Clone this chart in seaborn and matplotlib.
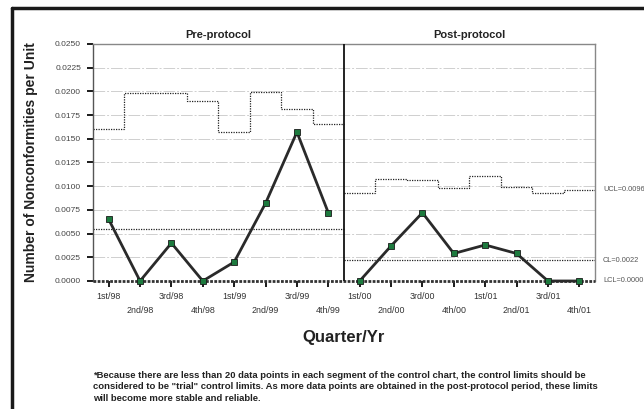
import numpy as np
import matplotlib
matplotlib.use("Agg")
import matplotlib.pyplot as plt
import seaborn as sns
from matplotlib.lines import Line2D

# quarters
pre_quarters = ["1st/98", "2nd/98", "3rd/98", "4th/98", "1st/99", "2nd/99", "3rd/99", "4th/99"]
post_quarters = ["1st/00", "2nd/00", "3rd/00", "4th/00", "1st/01", "2nd/01", "3rd/01", "4th/01"]

# nonconformities per unit
pre_values = [0.0065, 0.0, 0.0040, 0.0, 0.0020, 0.0082, 0.0157, 0.0072]
post_values = [0.0, 0.0037, 0.0072, 0.0029, 0.0038, 0.0029, 0.0, 0.0]

# control limits
pre_ucl = [0.0160, 0.0198, 0.0198, 0.0190, 0.0157, 0.0199, 0.0181, 0.0166]
post_ucl = [0.0093, 0.0108, 0.0107, 0.0098, 0.0111, 0.0099, 0.0093, 0.0096]
pre_cl = 0.0055
post_cl = 0.0022
lcl = 0.0

y_ticks = [0.0, 0.0025, 0.005, 0.0075, 0.01, 0.0125, 0.015, 0.0175, 0.02, 0.0225, 0.025]

sns.set_theme(style="white")
plt.rcParams["font.family"] = ["Liberation Sans", "DejaVu Sans"]

fig = plt.figure(figsize=(6.44, 4.09), dpi=100)
ax = fig.add_axes([0.1444, 0.313, 0.7795, 0.5795])

quarters = pre_quarters + post_quarters
n_pre = len(pre_quarters)
x_pre = np.arange(n_pre)
x_post = np.arange(n_pre, len(quarters))

# grid
for yv in y_ticks[1:]:
    ax.axhline(yv, color="#cfcfcf", lw=0.7, ls=(0, (12, 2, 2, 2)), zorder=0)

dot = (0, (1, 1))
# UCL steps
ax.stairs(pre_ucl, np.arange(-0.5, n_pre + 0.5), baseline=None, color="#222222", lw=0.9, ls=dot)
ax.stairs(post_ucl, np.arange(n_pre - 0.5, len(quarters) + 0.5), baseline=None, color="#222222", lw=0.9, ls=dot)
# CL
ax.hlines(pre_cl, -0.5, n_pre - 0.5, color="#222222", lw=0.9, ls=dot)
ax.hlines(post_cl, n_pre - 0.5, len(quarters) - 0.5, color="#222222", lw=0.9, ls=dot)
# LCL
ax.hlines(lcl, -0.5, len(quarters) - 0.5, color="#333333", lw=2.0, ls=(0, (1, 0.5)), zorder=3, clip_on=False)

# data lines
for xs, ys in [(x_pre, pre_values), (x_post, post_values)]:
    sns.lineplot(x=xs, y=ys, ax=ax, color="#2a2a2a", lw=2, marker="s", markersize=3.8,
                 markerfacecolor="#1d7a3e", markeredgecolor="#1a1a1a", markeredgewidth=0.6,
                 zorder=4, clip_on=False)

# divider
ax.axvline(n_pre - 0.5, color="#111111", lw=1.3, zorder=5)

ax.set_xlim(-0.5, len(quarters) - 0.5)
ax.set_ylim(0, 0.025)
ax.set_yticks(y_ticks)
ax.set_yticklabels([f"{v:.4f}" for v in y_ticks], fontsize=6, color="#444444")
ax.set_xticks(range(len(quarters)))
labels = [q if i % 2 == 0 else "\n" + q for i, q in enumerate(quarters)]
ax.set_xticklabels(labels, fontsize=6.4, color="#333333", linespacing=1.7)
ax.tick_params(axis="both", which="both", direction="out", length=4.3, width=1.4, color="#1a1a1a",
               bottom=True, left=True)
ax.tick_params(axis="x", pad=3.5)
ax.tick_params(axis="y", pad=4.3)

for side in ["top", "right"]:
    ax.spines[side].set_color("#888888")
    ax.spines[side].set_linewidth(1)
ax.spines["left"].set_color("#555555")
ax.spines["left"].set_linewidth(1)
ax.spines["bottom"].set_visible(False)

ax.set_ylabel("Number of Nonconformities per Unit", fontsize=10, fontweight="bold",
              color="#222222", labelpad=12)
ax.set_xlabel("Quarter/Yr", fontsize=12, fontweight="bold", color="#222222", labelpad=11)

ax.text((n_pre - 1) / 2, 0.0254, "Pre-protocol", ha="center", va="bottom", fontsize=8,
        fontweight="bold", color="#222222")
ax.text(n_pre + (len(post_quarters) - 1) / 2, 0.0254, "Post-protocol", ha="center", va="bottom",
        fontsize=8, fontweight="bold", color="#222222")

for val, txt in [(post_ucl[-1], "UCL=0.0096"), (post_cl, "CL=0.0022"), (lcl, "LCL=0.0000")]:
    ax.annotate(txt, xy=(1, val), xycoords=("axes fraction", "data"), xytext=(5.8, 0),
                textcoords="offset points", va="center", ha="left", fontsize=5.3, color="#555555",
                annotation_clip=False)

note = ("*Because there are less than 20 data points in each segment of the control chart, the control limits should be\n"
        "considered to be \"trial\" control limits. As more data points are obtained in the post-protocol period, these limits\n"
        "will become more stable and reliable.")
fig.text(93 / 644, 1 - 371 / 409, note, ha="left", va="top", fontsize=6.8, fontweight="bold",
         color="#222222", linespacing=1.35)

# frame
fig.add_artist(Line2D([12 / 644, 12 / 644], [0, 1 - 8 / 409], color="#1a1a1a", lw=2.5))
fig.add_artist(Line2D([12 / 644, 1], [1 - 8 / 409, 1 - 8 / 409], color="#1a1a1a", lw=2.5))

fig.savefig("out.png", dpi=100)
